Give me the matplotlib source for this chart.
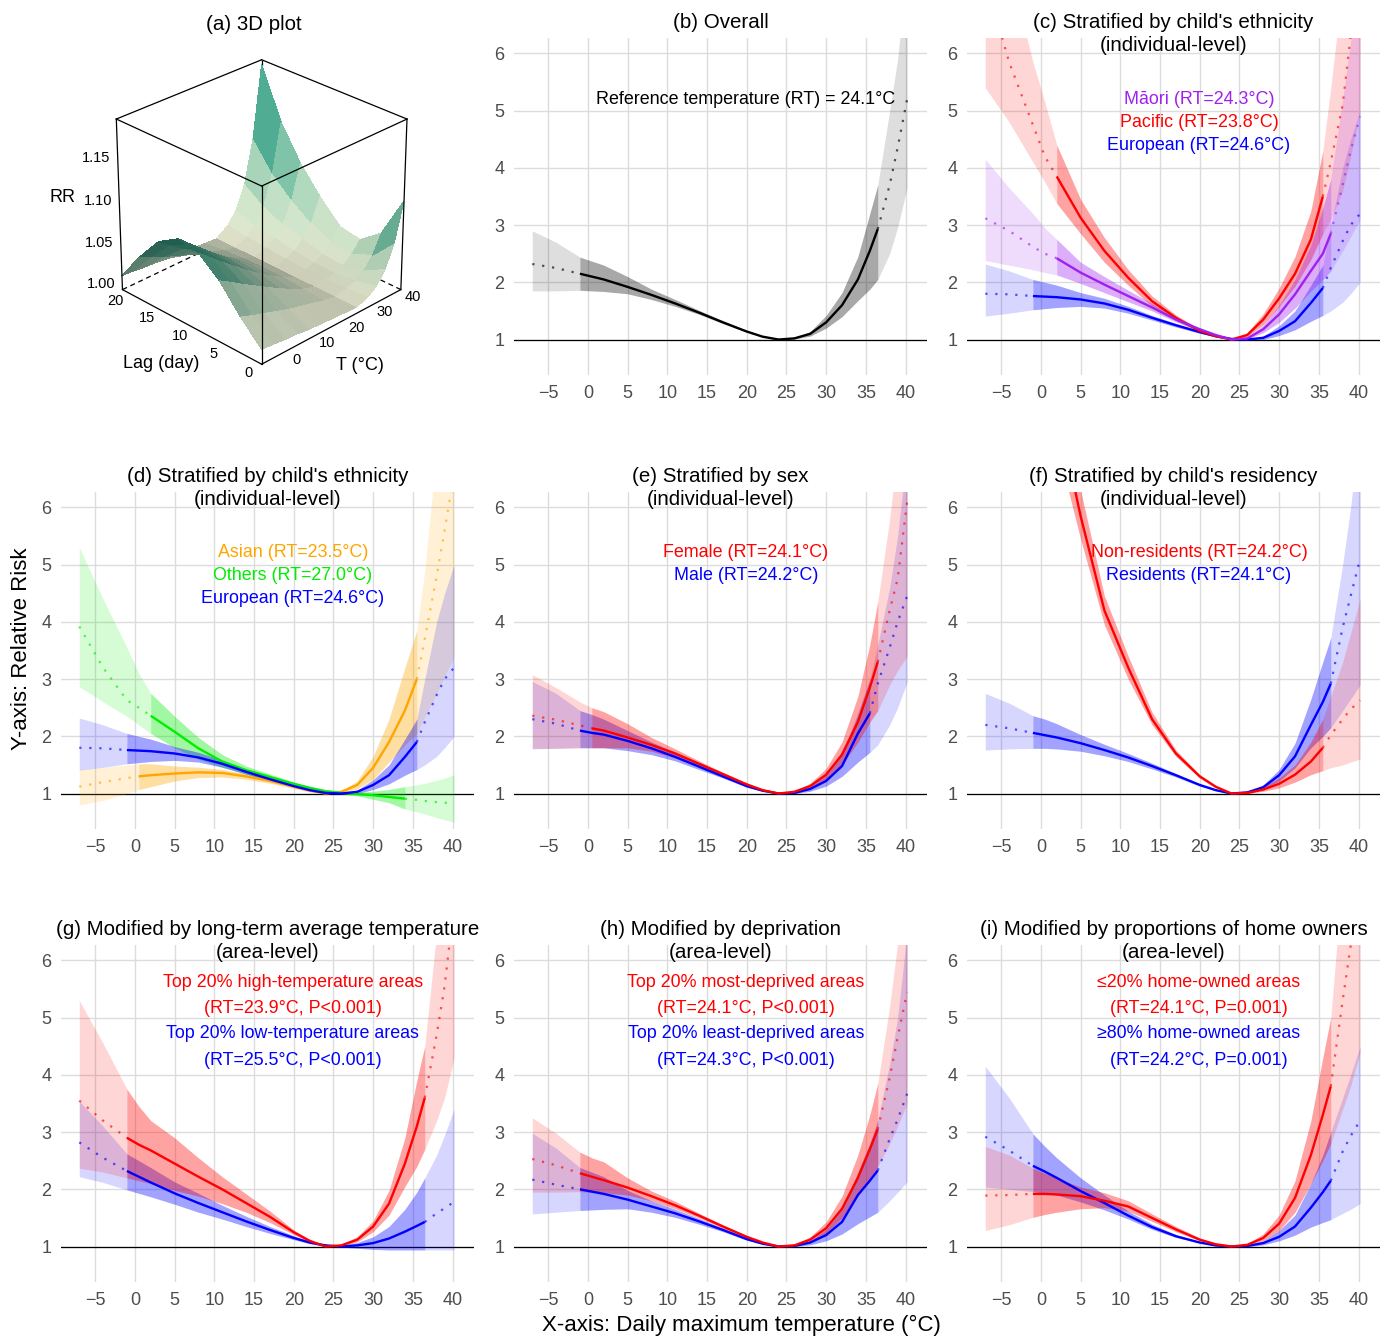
"""Temperature-RR curves, 3x3 panel figure with a 3D lag surface."""
import numpy as np
import matplotlib
matplotlib.use("Agg")
import matplotlib.pyplot as plt
from matplotlib.colors import LinearSegmentedColormap, LightSource, Normalize
from mpl_toolkits.mplot3d import proj3d

plt.rcParams["font.family"] = ["Liberation Sans", "DejaVu Sans"]

# temperature grid (deg C) shared by every curve
TEMP = [-7, -4, -1, 0.5, 2, 5, 8, 11, 14, 17, 20, 22, 24, 26, 28, 30, 32, 34,
        35.5, 36.5, 38, 39, 40.2]

OVERALL_RR = [2.32, 2.25, 2.15, 2.10, 2.05, 1.92, 1.78, 1.63, 1.47, 1.30, 1.14, 1.05, 1.00, 1.02, 1.10, 1.30, 1.60, 2.05, 2.55, 2.93, 3.70, 4.35, 5.20]
OVERALL_LO = [1.85, 1.85, 1.86, 1.85, 1.84, 1.80, 1.70, 1.58, 1.44, 1.28, 1.13, 1.05, 1.00, 1.01, 1.06, 1.20, 1.40, 1.68, 1.88, 2.05, 2.50, 2.96, 3.66]
OVERALL_HI = [2.90, 2.70, 2.44, 2.37, 2.30, 2.10, 1.88, 1.70, 1.51, 1.33, 1.16, 1.06, 1.00, 1.03, 1.14, 1.42, 1.82, 2.45, 3.20, 3.70, 5.00, 5.90, 7.50]

PACIFIC_RR = [7.30, 5.85, 4.75, 4.20, 3.85, 3.13, 2.55, 2.08, 1.67, 1.38, 1.15, 1.06, 1.00, 1.08, 1.35, 1.72, 2.15, 2.75, 3.50, 4.10, 5.10, 6.30, 7.80]
PACIFIC_LO = [5.40, 4.80, 4.10, 3.75, 3.38, 2.85, 2.35, 1.95, 1.58, 1.33, 1.12, 1.04, 1.00, 1.05, 1.26, 1.58, 1.93, 2.40, 2.85, 3.10, 3.60, 4.20, 5.00]
PACIFIC_HI = [9.00, 7.50, 5.85, 5.15, 4.40, 3.45, 2.78, 2.22, 1.76, 1.43, 1.18, 1.08, 1.00, 1.12, 1.45, 1.90, 2.45, 3.25, 4.30, 5.40, 7.20, 8.50, 10.5]

MAORI_RR = [3.12, 2.90, 2.62, 2.50, 2.42, 2.17, 1.96, 1.76, 1.56, 1.35, 1.18, 1.08, 1.00, 1.02, 1.18, 1.44, 1.79, 2.20, 2.50, 2.85, 3.70, 4.30, 4.90]
MAORI_LO = [2.38, 2.30, 2.22, 2.17, 2.13, 1.98, 1.82, 1.66, 1.50, 1.31, 1.16, 1.07, 1.00, 1.01, 1.12, 1.30, 1.55, 1.85, 2.05, 2.20, 2.55, 2.80, 3.10]
MAORI_HI = [4.15, 3.65, 3.20, 2.95, 2.75, 2.35, 2.10, 1.86, 1.63, 1.39, 1.20, 1.09, 1.00, 1.04, 1.25, 1.60, 2.05, 2.65, 3.30, 3.80, 5.20, 6.20, 7.50]

EURO_RR = [1.80, 1.79, 1.76, 1.75, 1.74, 1.70, 1.63, 1.52, 1.38, 1.25, 1.13, 1.06, 1.01, 1.00, 1.03, 1.15, 1.32, 1.64, 1.90, 2.25, 2.72, 3.00, 3.20]
EURO_LO = [1.41, 1.46, 1.52, 1.54, 1.56, 1.58, 1.55, 1.46, 1.34, 1.22, 1.11, 1.05, 1.00, 1.00, 1.00, 1.07, 1.17, 1.32, 1.42, 1.50, 1.65, 1.80, 2.00]
EURO_HI = [2.32, 2.20, 2.05, 2.00, 1.95, 1.82, 1.72, 1.58, 1.42, 1.28, 1.15, 1.07, 1.02, 1.00, 1.06, 1.24, 1.50, 1.95, 2.30, 3.00, 4.00, 4.50, 5.00]

OTHERS_RR = [3.92, 3.20, 2.63, 2.50, 2.36, 2.08, 1.79, 1.56, 1.41, 1.29, 1.17, 1.10, 1.04, 1.01, 0.99, 0.97, 0.94, 0.91, 0.89, 0.87, 0.85, 0.84, 0.82]
OTHERS_LO = [2.87, 2.60, 2.35, 2.20, 2.05, 1.80, 1.60, 1.46, 1.34, 1.24, 1.13, 1.07, 1.02, 1.00, 0.96, 0.90, 0.84, 0.73, 0.68, 0.64, 0.58, 0.54, 0.50]
OTHERS_HI = [5.30, 4.40, 3.55, 3.10, 2.75, 2.35, 1.98, 1.68, 1.48, 1.34, 1.20, 1.12, 1.07, 1.04, 1.02, 1.04, 1.07, 1.12, 1.15, 1.18, 1.23, 1.27, 1.33]

ASIAN_RR = [1.12, 1.20, 1.27, 1.30, 1.32, 1.35, 1.37, 1.36, 1.30, 1.22, 1.12, 1.05, 1.00, 1.03, 1.15, 1.45, 1.90, 2.45, 3.00, 3.70, 4.80, 5.60, 6.60]
ASIAN_LO = [0.80, 0.88, 1.00, 1.07, 1.12, 1.22, 1.28, 1.29, 1.25, 1.18, 1.09, 1.03, 1.00, 1.01, 1.08, 1.25, 1.55, 1.85, 2.05, 2.35, 2.75, 3.05, 3.40]
ASIAN_HI = [1.42, 1.46, 1.50, 1.52, 1.52, 1.48, 1.46, 1.42, 1.35, 1.26, 1.14, 1.07, 1.00, 1.05, 1.22, 1.65, 2.30, 3.20, 3.85, 4.90, 7.00, 8.00, 9.00]

FEMALE_RR = [2.36, 2.29, 2.19, 2.14, 2.10, 1.98, 1.85, 1.70, 1.52, 1.34, 1.16, 1.06, 1.00, 1.03, 1.13, 1.33, 1.68, 2.25, 2.85, 3.30, 4.20, 4.75, 6.10]
FEMALE_LO = [1.79, 1.79, 1.80, 1.80, 1.80, 1.80, 1.74, 1.62, 1.47, 1.31, 1.14, 1.05, 1.00, 1.02, 1.09, 1.24, 1.50, 1.90, 2.25, 2.45, 2.90, 3.15, 3.40]
FEMALE_HI = [3.08, 2.85, 2.60, 2.50, 2.43, 2.22, 1.98, 1.78, 1.57, 1.37, 1.18, 1.07, 1.00, 1.05, 1.18, 1.44, 1.90, 2.70, 3.60, 4.35, 5.80, 7.00, 9.00]

MALE_RR = [2.30, 2.22, 2.10, 2.06, 2.03, 1.92, 1.79, 1.64, 1.47, 1.30, 1.13, 1.05, 1.00, 1.01, 1.08, 1.22, 1.48, 2.05, 2.40, 2.92, 3.55, 4.00, 4.45]
MALE_LO = [1.78, 1.79, 1.80, 1.80, 1.80, 1.75, 1.68, 1.57, 1.42, 1.27, 1.11, 1.04, 1.00, 1.00, 1.04, 1.13, 1.30, 1.55, 1.72, 1.85, 2.20, 2.50, 2.95]
MALE_HI = [2.96, 2.75, 2.45, 2.38, 2.30, 2.10, 1.90, 1.72, 1.52, 1.33, 1.15, 1.06, 1.00, 1.02, 1.12, 1.32, 1.68, 2.40, 3.00, 3.60, 4.60, 5.50, 7.00]

NONRES_RR = [20.0, 15.0, 11.0, 9.20, 7.80, 5.85, 4.20, 3.20, 2.30, 1.70, 1.30, 1.12, 1.00, 1.01, 1.07, 1.17, 1.33, 1.56, 1.80, 2.02, 2.30, 2.47, 2.63]
NONRES_LO = [17.0, 13.0, 10.0, 8.50, 7.10, 5.45, 3.95, 3.00, 2.20, 1.65, 1.27, 1.10, 1.00, 1.00, 1.04, 1.10, 1.20, 1.33, 1.40, 1.45, 1.50, 1.55, 1.60]
NONRES_HI = [24.0, 17.0, 12.5, 10.2, 8.50, 6.30, 4.45, 3.40, 2.42, 1.76, 1.33, 1.14, 1.00, 1.03, 1.12, 1.27, 1.50, 1.90, 2.30, 2.70, 3.30, 3.80, 4.40]

RES_RR = [2.20, 2.14, 2.06, 2.02, 1.98, 1.88, 1.76, 1.63, 1.48, 1.32, 1.15, 1.06, 1.00, 1.02, 1.11, 1.32, 1.65, 2.20, 2.60, 2.92, 3.90, 4.45, 5.10]
RES_LO = [1.76, 1.78, 1.79, 1.79, 1.78, 1.74, 1.66, 1.56, 1.43, 1.29, 1.13, 1.05, 1.00, 1.01, 1.07, 1.22, 1.45, 1.80, 2.00, 2.15, 2.45, 2.65, 2.90]
RES_HI = [2.75, 2.58, 2.36, 2.30, 2.22, 2.03, 1.86, 1.70, 1.53, 1.35, 1.17, 1.07, 1.00, 1.03, 1.15, 1.42, 1.88, 2.65, 3.30, 3.72, 5.00, 6.00, 7.50]

HIGHT_RR = [3.55, 3.20, 2.90, 2.78, 2.68, 2.45, 2.22, 2.00, 1.76, 1.52, 1.25, 1.10, 1.00, 1.02, 1.12, 1.35, 1.75, 2.45, 3.10, 3.60, 4.70, 5.55, 7.00]
HIGHT_LO = [2.37, 2.30, 2.20, 2.15, 2.10, 1.98, 1.88, 1.75, 1.60, 1.42, 1.21, 1.08, 1.00, 1.00, 1.08, 1.26, 1.55, 2.05, 2.40, 2.70, 3.20, 3.60, 4.30]
HIGHT_HI = [5.30, 4.55, 3.75, 3.45, 3.20, 2.90, 2.55, 2.22, 1.92, 1.62, 1.29, 1.12, 1.01, 1.04, 1.17, 1.45, 1.98, 2.90, 3.90, 4.50, 6.50, 7.50, 9.00]

LOWT_RR = [2.82, 2.55, 2.32, 2.22, 2.12, 1.93, 1.76, 1.60, 1.44, 1.29, 1.15, 1.07, 1.02, 1.00, 1.02, 1.06, 1.14, 1.26, 1.36, 1.43, 1.58, 1.67, 1.78]
LOWT_LO = [2.22, 2.12, 1.99, 1.93, 1.87, 1.74, 1.60, 1.48, 1.35, 1.23, 1.12, 1.05, 1.00, 0.99, 0.97, 0.95, 0.94, 0.94, 0.94, 0.94, 0.94, 0.94, 0.94]
LOWT_HI = [3.54, 3.10, 2.62, 2.50, 2.38, 2.13, 1.93, 1.72, 1.53, 1.35, 1.19, 1.09, 1.04, 1.01, 1.07, 1.17, 1.35, 1.65, 1.95, 2.20, 2.60, 2.95, 3.40]

MOSTDEP_RR = [2.53, 2.42, 2.28, 2.22, 2.16, 2.03, 1.88, 1.72, 1.54, 1.35, 1.17, 1.07, 1.00, 1.02, 1.12, 1.32, 1.66, 2.20, 2.70, 3.05, 3.95, 4.65, 5.45]
MOSTDEP_LO = [1.95, 1.95, 1.96, 1.95, 1.94, 1.90, 1.80, 1.66, 1.50, 1.32, 1.15, 1.06, 1.00, 1.01, 1.08, 1.23, 1.50, 1.90, 2.20, 2.40, 2.80, 3.10, 3.50]
MOSTDEP_HI = [3.25, 2.98, 2.65, 2.55, 2.48, 2.20, 1.97, 1.79, 1.58, 1.38, 1.19, 1.08, 1.00, 1.04, 1.17, 1.43, 1.88, 2.60, 3.30, 3.85, 5.20, 6.30, 8.00]

LEASTDEP_RR = [2.17, 2.08, 2.00, 1.96, 1.92, 1.82, 1.70, 1.58, 1.44, 1.29, 1.13, 1.05, 1.00, 1.01, 1.07, 1.20, 1.43, 1.90, 2.15, 2.33, 2.88, 3.22, 3.67]
LEASTDEP_LO = [1.57, 1.60, 1.63, 1.64, 1.65, 1.66, 1.60, 1.51, 1.39, 1.26, 1.11, 1.04, 1.00, 1.00, 1.03, 1.10, 1.22, 1.40, 1.52, 1.60, 1.80, 1.95, 2.13]
LEASTDEP_HI = [2.98, 2.72, 2.38, 2.30, 2.22, 1.98, 1.80, 1.65, 1.49, 1.32, 1.15, 1.06, 1.00, 1.02, 1.10, 1.30, 1.65, 2.30, 2.80, 3.20, 4.20, 5.00, 6.50]

LOWOWN_RR = [1.89, 1.90, 1.92, 1.92, 1.91, 1.88, 1.80, 1.70, 1.50, 1.30, 1.12, 1.04, 1.00, 1.03, 1.15, 1.40, 1.85, 2.60, 3.30, 3.80, 5.30, 6.25, 7.60]
LOWOWN_LO = [1.28, 1.38, 1.51, 1.56, 1.60, 1.66, 1.68, 1.62, 1.44, 1.26, 1.10, 1.03, 1.00, 1.01, 1.10, 1.28, 1.60, 2.10, 2.50, 2.80, 3.40, 3.80, 4.40]
LOWOWN_HI = [2.75, 2.60, 2.37, 2.28, 2.20, 2.04, 1.94, 1.80, 1.57, 1.35, 1.15, 1.05, 1.00, 1.05, 1.22, 1.55, 2.15, 3.20, 4.30, 5.00, 7.50, 9.00, 11.0]

HIGHOWN_RR = [2.92, 2.68, 2.41, 2.31, 2.20, 1.97, 1.76, 1.54, 1.34, 1.18, 1.07, 1.02, 1.00, 1.01, 1.06, 1.17, 1.35, 1.68, 1.95, 2.15, 2.66, 2.93, 3.20]
HIGHOWN_LO = [2.04, 2.00, 1.96, 1.93, 1.90, 1.78, 1.64, 1.48, 1.30, 1.16, 1.06, 1.01, 1.00, 1.00, 1.03, 1.10, 1.20, 1.34, 1.42, 1.47, 1.58, 1.65, 1.75]
HIGHOWN_HI = [4.15, 3.60, 2.97, 2.75, 2.55, 2.20, 1.90, 1.62, 1.39, 1.21, 1.08, 1.03, 1.00, 1.02, 1.10, 1.28, 1.55, 2.10, 2.60, 3.00, 3.60, 4.00, 4.50]

# 3D surface: RR by temperature (columns) and lag (rows)
T_SURF = [-7.5, -4, 0, 4, 8, 12, 16, 20, 24, 28, 31, 34, 37, 40]
LAG_SURF = [0, 3, 6, 9, 12, 15, 18, 21]
RR_SURF = [
    [1.010, 1.009, 1.007, 1.006, 1.004, 1.003, 1.002, 1.001, 1.000, 1.005, 1.013, 1.028, 1.055, 1.100],
    [1.035, 1.030, 1.025, 1.020, 1.015, 1.011, 1.007, 1.003, 1.000, 1.003, 1.007, 1.014, 1.028, 1.050],
    [1.065, 1.057, 1.047, 1.038, 1.029, 1.020, 1.012, 1.005, 1.000, 1.002, 1.004, 1.008, 1.017, 1.030],
    [1.085, 1.074, 1.061, 1.049, 1.037, 1.026, 1.016, 1.007, 1.000, 1.002, 1.005, 1.010, 1.019, 1.035],
    [1.090, 1.078, 1.065, 1.052, 1.040, 1.028, 1.017, 1.007, 1.000, 1.003, 1.008, 1.017, 1.033, 1.060],
    [1.075, 1.065, 1.054, 1.044, 1.033, 1.023, 1.014, 1.006, 1.000, 1.005, 1.012, 1.025, 1.050, 1.090],
    [1.045, 1.039, 1.032, 1.026, 1.020, 1.014, 1.009, 1.004, 1.000, 1.007, 1.017, 1.036, 1.072, 1.130],
    [1.010, 1.009, 1.007, 1.006, 1.004, 1.003, 1.002, 1.001, 1.000, 1.010, 1.025, 1.053, 1.105, 1.190],
]
RR_BOX = (0.9925, 1.195)
RR_TICKS = [1.00, 1.05, 1.10, 1.15]
LAG_TICKS = [0, 5, 10, 15, 20]
T_TICKS = [0, 10, 20, 30, 40]

RED, BLUE, PURPLE = "#FF0000", "#0000FF", "#A020F0"
ORANGE, GREEN, BLACK = "#FFA500", "#00EE00", "#000000"

PANELS = [
    # title, series (drawn in order), notes, note y positions
    ("(b) Overall",
     [(OVERALL_RR, OVERALL_LO, OVERALL_HI, BLACK, (-1, 36.5))],
     [("Reference temperature (RT) = 24.1°C", BLACK)], [5.19]),
    ("(c) Stratified by child's ethnicity\n(individual-level)",
     [(EURO_RR, EURO_LO, EURO_HI, BLUE, (-1, 35.5)),
      (PACIFIC_RR, PACIFIC_LO, PACIFIC_HI, RED, (2, 35.5)),
      (MAORI_RR, MAORI_LO, MAORI_HI, PURPLE, (2, 36.5))],
     [("Māori (RT=24.3°C)", PURPLE), ("Pacific (RT=23.8°C)", RED),
      ("European (RT=24.6°C)", BLUE)], [5.19, 4.79, 4.39]),
    ("(d) Stratified by child's ethnicity\n(individual-level)",
     [(ASIAN_RR, ASIAN_LO, ASIAN_HI, ORANGE, (0.5, 35.5)),
      (OTHERS_RR, OTHERS_LO, OTHERS_HI, GREEN, (2, 34)),
      (EURO_RR, EURO_LO, EURO_HI, BLUE, (-1, 35.5))],
     [("Asian (RT=23.5°C)", ORANGE), ("Others (RT=27.0°C)", GREEN),
      ("European (RT=24.6°C)", BLUE)], [5.21, 4.81, 4.40]),
    ("(e) Stratified by sex\n(individual-level)",
     [(MALE_RR, MALE_LO, MALE_HI, BLUE, (-1, 35.5)),
      (FEMALE_RR, FEMALE_LO, FEMALE_HI, RED, (0.5, 36.5))],
     [("Female (RT=24.1°C)", RED), ("Male (RT=24.2°C)", BLUE)], [5.21, 4.81]),
    ("(f) Stratified by child's residency\n(individual-level)",
     [(RES_RR, RES_LO, RES_HI, BLUE, (-1, 36.5)),
      (NONRES_RR, NONRES_LO, NONRES_HI, RED, (-1, 35.5))],
     [("Non-residents (RT=24.2°C)", RED), ("Residents (RT=24.1°C)", BLUE)],
     [5.21, 4.81]),
    ("(g) Modified by long-term average temperature\n(area-level)",
     [(LOWT_RR, LOWT_LO, LOWT_HI, BLUE, (-1, 36.5)),
      (HIGHT_RR, HIGHT_LO, HIGHT_HI, RED, (-1, 36.5))],
     [("Top 20% high-temperature areas", RED), ("(RT=23.9°C, P<0.001)", RED),
      ("Top 20% low-temperature areas", BLUE), ("(RT=25.5°C, P<0.001)", BLUE)],
     [5.61, 5.16, 4.72, 4.26]),
    ("(h) Modified by deprivation\n(area-level)",
     [(LEASTDEP_RR, LEASTDEP_LO, LEASTDEP_HI, BLUE, (-1, 36.5)),
      (MOSTDEP_RR, MOSTDEP_LO, MOSTDEP_HI, RED, (-1, 36.5))],
     [("Top 20% most-deprived areas", RED), ("(RT=24.1°C, P<0.001)", RED),
      ("Top 20% least-deprived areas", BLUE), ("(RT=24.3°C, P<0.001)", BLUE)],
     [5.61, 5.16, 4.72, 4.26]),
    ("(i) Modified by proportions of home owners\n(area-level)",
     [(HIGHOWN_RR, HIGHOWN_LO, HIGHOWN_HI, BLUE, (-1, 36.5)),
      (LOWOWN_RR, LOWOWN_LO, LOWOWN_HI, RED, (-1, 36.5))],
     [("≤20% home-owned areas", RED), ("(RT=24.1°C, P=0.001)", RED),
      ("≥80% home-owned areas", BLUE), ("(RT=24.2°C, P=0.001)", BLUE)],
     [5.61, 5.16, 4.72, 4.26]),
]

W, H = 1386, 1338
COL_LEFT = [61, 514, 967]
ROW_TOP = [38, 492, 945]
AX_W, AX_H = 413, 337


def draw_series(ax, rr, lo, hi, color, solid):
    t = np.asarray(TEMP)
    rr, lo, hi = np.asarray(rr), np.asarray(lo), np.asarray(hi)
    band_a = 0.13 if color == BLACK else 0.16
    ax.fill_between(t, lo, hi, color=color, alpha=band_a, lw=0, zorder=2)
    mid = (t >= solid[0]) & (t <= solid[1])
    ax.fill_between(t[mid], lo[mid], hi[mid], color=color, alpha=0.24,
                    lw=0, zorder=2)
    left = t <= solid[0]
    right = t >= solid[1]
    for m in (left, right):
        ax.plot(t[m], rr[m], color=color, lw=1.6, alpha=0.65,
                ls=(0, (1, 3.5)), zorder=3)
    ax.plot(t[mid], rr[mid], color=color, lw=1.7, zorder=3,
            solid_capstyle="butt", solid_joinstyle="round")


def curve_panel(fig, k, title, series, notes, note_y):
    r, c = divmod(k + 1, 3)
    ax = fig.add_axes([COL_LEFT[c] / W, 1 - (ROW_TOP[r] + AX_H) / H,
                       AX_W / W, AX_H / H])
    ax.set_xlim(-9.3, 42.7)
    ax.set_ylim(0.38, 6.27)
    ax.set_xticks(range(-5, 41, 5))
    ax.set_yticks(range(1, 7))
    ax.grid(True, color="#DCDCDC", lw=1.0)
    ax.set_axisbelow(True)
    for s in ax.spines.values():
        s.set_visible(False)
    ax.tick_params(length=0, labelsize=13, colors="#4D4D4D", pad=7)
    ax.axhline(1, color="black", lw=0.9, zorder=1.5)
    for rr, lo, hi, color, solid in series:
        draw_series(ax, rr, lo, hi, color, solid)
    for (txt, col), y in zip(notes, note_y):
        ax.text(19.9, y, txt, color=col, fontsize=12.9, ha="center",
                va="center", zorder=5)
    ax.text(0.5, 1 + 25 / AX_H, title, transform=ax.transAxes, ha="center",
            va="top", fontsize=14.8, linespacing=1.25)


def surface_panel(fig):
    ax = fig.add_axes([0.0, 0.697, 0.37, 0.29], projection="3d",
                      computed_zorder=False)
    t0, t1 = T_SURF[0], T_SURF[-1]
    z0, z1 = RR_BOX
    tx = (np.asarray(T_SURF) - t0) / (t1 - t0)
    ly = np.asarray(LAG_SURF) / LAG_SURF[-1]
    X, Y = np.meshgrid(tx, ly)
    Z = (np.asarray(RR_SURF) - z0) / (z1 - z0)
    cmap = LinearSegmentedColormap.from_list(
        "surf", [(0.0, "#EEF0D6"), (0.16, "#B8DDC2"), (0.32, "#62B89C"),
                 (0.53, "#2A9985"), (0.79, "#187B82"), (1.0, "#0F3F6E")])
    fc = cmap(Normalize(1.0, 1.19)(np.asarray(RR_SURF)))
    ax.plot_surface(X, Y, Z, facecolors=fc, shade=True,
                    lightsource=LightSource(azdeg=250, altdeg=30),
                    rstride=1, cstride=1, linewidth=0, antialiased=False,
                    zorder=1)
    # box
    k = dict(color="black", lw=0.9, zorder=2)
    for a, b in [((0, 0, 1), (1, 0, 1)), ((1, 0, 1), (1, 1, 1)),
                 ((1, 1, 1), (0, 1, 1)), ((0, 1, 1), (0, 0, 1)),
                 ((0, 0, 0), (0, 0, 1)), ((1, 0, 0), (1, 0, 1)),
                 ((0, 1, 0), (0, 1, 1)), ((0, 0, 0), (1, 0, 0)),
                 ((0, 0, 0), (0, 1, 0))]:
        ax.plot(*zip(a, b), **k)
    for a, b in [((1, 0, 0), (1, 1, 0)), ((0, 1, 0), (1, 1, 0)),
                 ((1, 1, 0), (1, 1, 1))]:
        ax.plot(*zip(a, b), color="black", lw=0.9, ls=(0, (4, 3)), zorder=0)
    ax.set_xlim(0, 1)
    ax.set_ylim(0, 1)
    ax.set_zlim(0, 1)
    ax.view_init(elev=28, azim=-135)
    ax.set_box_aspect((1, 1, 0.96), zoom=0.86)
    ax.set_axis_off()

    # labels: project the 3D anchor points and write them as 2D text
    M = ax.get_proj()

    def label(x, y, z, s, size=10.5, ha="center"):
        px, py, _ = proj3d.proj_transform(x, y, z, M)
        ax.text2D(px, py, s, transform=ax.transData, fontsize=size, ha=ha,
                  va="center", zorder=3)

    for v in RR_TICKS:
        label(-0.025, 1.025, (v - z0) / (z1 - z0), f"{v:.2f}", ha="right")
    for lag in LAG_TICKS:
        label(-0.09, lag / LAG_SURF[-1], -0.01, str(lag))
    for tv in T_TICKS:
        label((tv - t0) / (t1 - t0), -0.08, -0.01, str(tv))
    label(-0.2, 1.2, 0.55, "RR", size=13)
    label(-0.36, 0.32, 0.02, "Lag (day)", size=13)
    label(0.3, -0.36, 0.02, "T (°C)", size=13)
    fig.text(254 / W, 1 - 25 / H, "(a) 3D plot", fontsize=14.8, ha="center",
             va="center")


def main():
    fig = plt.figure(figsize=(W / 100, H / 100), dpi=100)
    surface_panel(fig)
    for k, (title, series, notes, note_y) in enumerate(PANELS):
        curve_panel(fig, k, title, series, notes, note_y)
    fig.text(22 / W, 1 - 649 / H, "Y-axis: Relative Risk", rotation=90,
             fontsize=16, ha="center", va="center")
    fig.text(741 / W, 1 - 1325 / H, "X-axis: Daily maximum temperature (°C)",
             fontsize=16, ha="center", va="center")
    fig.savefig("out.png", dpi=100)


if __name__ == "__main__":
    main()
